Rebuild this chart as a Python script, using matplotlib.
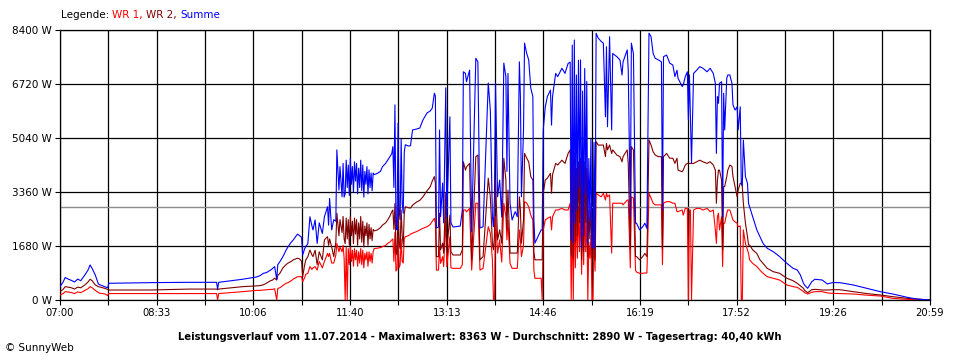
import numpy as np
import matplotlib
matplotlib.use("Agg")
import matplotlib.pyplot as plt

# Zeit in Minuten ab 07:00
minutes = [
    0, 3, 5, 8, 11, 14, 17, 20, 24, 27,
    29, 31, 34, 37, 39, 43, 46, 47, 87, 125,
    151, 152, 153, 176, 190, 193, 196, 199, 203, 205,
    207, 209, 210, 212, 215, 218, 220, 223, 225, 229,
    231, 233, 234, 236, 237, 239, 241, 243, 244, 246,
    248, 250, 253, 255, 258, 259, 260, 262, 264, 266,
    267, 269, 270, 272, 273, 274, 275, 276, 277, 278,
    279, 280, 281, 282, 283, 284, 285, 286, 287, 288,
    289, 290, 291, 292, 293, 294, 295, 296, 297, 298,
    299, 300, 301, 302, 303, 306, 309, 311, 314, 316,
    318, 320, 321, 322, 323, 324, 325, 326, 327, 328,
    329, 330, 331, 332, 333, 336, 338, 340, 344, 347,
    350, 354, 357, 359, 361, 362, 363, 365, 366, 367,
    369, 370, 372, 373, 376, 377, 379, 386, 388, 389,
    391, 392, 395, 397, 401, 403, 405, 408, 413, 415,
    417, 418, 419, 420, 422, 424, 426, 428, 430, 431,
    432, 434, 436, 439, 441, 443, 444, 445, 447, 448,
    450, 452, 454, 456, 457, 458, 464, 465, 466, 468,
    470, 473, 474, 475, 478, 480, 484, 487, 490, 492,
    493, 494, 495, 496, 497, 498, 499, 500, 501, 502,
    503, 504, 505, 506, 507, 508, 509, 510, 511, 512,
    513, 514, 515, 516, 517, 519, 522, 524, 526, 527,
    528, 530, 532, 533, 537, 540, 542, 543, 547, 548,
    550, 551, 553, 555, 556, 559, 562, 564, 566, 568,
    570, 572, 574, 577, 580, 581, 582, 585, 588, 591,
    593, 595, 596, 600, 601, 603, 605, 606, 607, 608,
    609, 611, 614, 617, 620, 624, 627, 630, 632, 633,
    634, 635, 636, 638, 639, 640, 641, 643, 644, 646,
    648, 649, 651, 653, 654, 656, 657, 658, 659, 661,
    663, 664, 665, 668, 672, 675, 678, 682, 688, 694,
    701, 707, 711, 714, 717, 718, 721, 725, 728, 735,
    740, 745, 752, 765, 778, 791, 803, 817, 826, 839,
]

wr1 = [
    155, 200, 260, 250, 230, 200, 250, 230, 300, 350,
    415, 380, 300, 230, 207, 190, 140, 200, 200, 200,
    200, 0, 200, 260, 300, 300, 310, 320, 330, 330,
    350, 0, 360, 380, 450, 520, 540, 600, 650, 725,
    725, 725, 570, 700, 800, 830, 1040, 950, 1000, 1040,
    930, 1200, 1000, 1200, 1450, 1350, 1450, 1150, 1150, 1400,
    1760, 1500, 1650, 1500, 1700, 1300, 0, 1650, 0, 1600,
    1100, 1650, 1200, 1550, 1050, 1600, 1250, 1550, 1050, 1500,
    1150, 1600, 1100, 1550, 1000, 1450, 1250, 1500, 1050, 1500,
    1200, 1450, 1150, 1500, 1600, 1610, 1630, 1660, 1700, 1760,
    1800, 1870, 1900, 1200, 2100, 900, 950, 2000, 1000, 1100,
    1900, 1200, 1150, 1900, 1970, 2000, 2050, 2080, 2130, 2180,
    2230, 2280, 2350, 2450, 2540, 2390, 930, 930, 1660, 1140,
    1350, 1040, 2590, 1040, 1970, 1000, 985, 985, 1100, 2800,
    2800, 2740, 2850, 930, 3010, 3010, 930, 985, 2280, 2080,
    1250, 0, 0, 2590, 1460, 1870, 1180, 3010, 2590, 1870,
    2490, 1140, 985, 985, 985, 2180, 1870, 1350, 1700, 3060,
    3020, 2900, 2640, 2490, 930, 675, 675, 0, 2180, 2490,
    2540, 2590, 2180, 2590, 2800, 2800, 2850, 2800, 2800, 3010,
    0, 3000, 0, 3010, 1000, 2800, 1300, 2900, 1500, 2900,
    800, 2700, 1100, 2900, 1500, 2900, 0, 1800, 1300, 2000,
    0, 0, 2000, 900, 3320, 3270, 3210, 3320, 3110, 3320,
    3210, 3270, 1460, 3010, 3010, 3010, 3010, 2960, 3110, 3110,
    1000, 3210, 3170, 930, 870, 830, 830, 840, 840, 3320,
    3170, 3010, 2960, 2960, 2960, 1100, 3010, 3060, 3060, 3010,
    3010, 2750, 2750, 2800, 2640, 2850, 2850, 0, 2800, 2800,
    0, 2800, 2850, 2850, 2800, 2850, 2750, 2800, 2180, 1760,
    2590, 2700, 2180, 2590, 1040, 2390, 2390, 2700, 2800, 2800,
    2590, 2490, 2430, 2390, 2280, 2300, 0, 0, 2180, 1760,
    1560, 1450, 1250, 1140, 1040, 930, 830, 725, 675, 620,
    467, 415, 394, 330, 260, 230, 187, 240, 260, 260,
    220, 207, 200, 187, 150, 124, 52, 20, 0, 0,
]

wr2 = [
    260, 330, 415, 400, 380, 340, 400, 380, 470, 560,
    645, 600, 470, 415, 400, 363, 330, 311, 311, 340,
    340, 320, 340, 415, 440, 450, 470, 520, 600, 620,
    680, 620, 760, 830, 1000, 1100, 1150, 1200, 1250, 1300,
    1280, 1200, 725, 1100, 1245, 1350, 1555, 1400, 1350, 1550,
    1100, 1500, 1250, 1870, 1970, 1700, 1900, 1650, 1350, 1800,
    2700, 2000, 2500, 2100, 2600, 1900, 1750, 2550, 1900, 2500,
    1700, 2600, 2000, 2450, 1750, 2550, 2050, 2500, 1700, 2400,
    1900, 2600, 1800, 2450, 1650, 2300, 2000, 2400, 1700, 2350,
    1900, 2250, 1850, 2200, 2150, 2180, 2250, 2330, 2400, 2490,
    2600, 2750, 2800, 2200, 3000, 1500, 1400, 2950, 1800, 1600,
    2800, 2000, 1700, 2700, 2900, 2870, 2860, 2950, 3050, 3100,
    3210, 3400, 3520, 3700, 3840, 3640, 1350, 1350, 2700, 1560,
    1770, 1460, 3330, 1560, 2640, 1500, 1400, 1400, 1560, 4300,
    4040, 4140, 4250, 1250, 4460, 4510, 1250, 1350, 3790, 3210,
    1770, 1560, 1990, 3730, 1870, 2180, 1770, 4410, 3730, 2180,
    3420, 1460, 1460, 1460, 1460, 3210, 2800, 1770, 2490, 4560,
    4420, 4300, 3840, 3730, 1500, 1250, 1250, 1250, 3320, 3730,
    3790, 3940, 3320, 3900, 4250, 4200, 4350, 4250, 4560, 4670,
    1400, 4500, 1300, 4560, 1800, 4100, 2000, 4300, 2400, 4400,
    1250, 3900, 1500, 4300, 2400, 4100, 1350, 2800, 1900, 3000,
    1300, 1300, 3000, 1250, 4930, 4820, 4820, 4820, 4460, 4870,
    4670, 4820, 4560, 4670, 4510, 4460, 4300, 4460, 4670, 4250,
    1600, 4770, 4670, 1350, 1350, 1250, 1350, 1450, 1350, 4980,
    4820, 4610, 4510, 4460, 4460, 1600, 4460, 4560, 4410, 4410,
    4250, 4410, 4040, 3990, 4040, 4200, 4250, 4250, 4250, 4250,
    4250, 4250, 4300, 4350, 4300, 4250, 4300, 4200, 4040, 3010,
    3730, 4040, 4040, 3730, 1560, 3530, 3530, 3840, 4040, 4200,
    4150, 3840, 3530, 3210, 3420, 3630, 3630, 3530, 3010, 2390,
    1970, 1710, 1710, 1560, 1450, 1250, 1140, 985, 880, 830,
    675, 600, 518, 440, 363, 300, 228, 320, 332, 311,
    311, 320, 320, 260, 200, 156, 104, 52, 30, 0,
]

summe = [
    415, 560, 700, 650, 610, 560, 650, 600, 780, 930,
    1090, 980, 780, 500, 467, 415, 380, 520, 540, 550,
    550, 340, 550, 645, 720, 760, 830, 850, 930, 980,
    1040, 640, 1100, 1190, 1350, 1550, 1660, 1800, 1870, 2050,
    2000, 1950, 1400, 1600, 1660, 1750, 2590, 2300, 2180, 2490,
    1760, 2400, 2070, 2590, 2900, 2330, 3160, 2180, 2500, 2450,
    4670, 3420, 4150, 3210, 4250, 3200, 3300, 4350, 3500, 4200,
    3250, 4400, 3600, 4150, 3350, 4300, 3700, 4250, 3300, 4100,
    3500, 4350, 3400, 4200, 3200, 4000, 3600, 4150, 3300, 4050,
    3500, 3950, 3400, 3950, 3900, 3940, 4000, 4150, 4250, 4350,
    4450, 4560, 4770, 3500, 6070, 2400, 2180, 5500, 2800, 2500,
    5000, 3000, 2700, 4600, 4830, 4790, 4800, 5290, 5320, 5350,
    5600, 5820, 5880, 5970, 6430, 6350, 2240, 2270, 5290, 2590,
    3640, 2400, 6600, 2580, 5700, 2400, 2270, 2300, 2800, 7100,
    7050, 6790, 7150, 2120, 7520, 7410, 2240, 2280, 6750, 5910,
    2590, 2280, 3210, 6750, 3210, 3730, 2580, 7370, 6950, 4000,
    7050, 3010, 2490, 2750, 2590, 7410, 6330, 3210, 5290, 7990,
    7680, 7470, 6590, 6330, 2490, 1770, 2180, 2180, 5290, 6010,
    6330, 6530, 5440, 6330, 7050, 6950, 7210, 7050, 7360, 7400,
    1870, 7930, 1770, 8090, 2400, 7000, 2800, 7460, 3500, 7470,
    1620, 6500, 2000, 7200, 3300, 6800, 1750, 4400, 2500, 5000,
    1620, 1650, 4900, 1600, 8300, 8150, 8040, 7990, 5700, 7880,
    5390, 8190, 5290, 7670, 7570, 7470, 7000, 7410, 7780, 7150,
    2590, 7990, 7670, 2390, 2390, 2180, 2280, 2390, 2230, 8300,
    8190, 7670, 7520, 7470, 7410, 2800, 7570, 7620, 7370, 7310,
    6950, 7150, 6900, 6640, 6690, 6950, 7100, 5600, 7000, 5600,
    4260, 7050, 7150, 7260, 7210, 7100, 7210, 7050, 6740, 4560,
    6330, 6120, 6740, 6790, 2590, 6430, 5290, 6900, 7000, 7000,
    6740, 6070, 5910, 6010, 5290, 6010, 3640, 3550, 4980, 3840,
    3630, 3010, 2900, 2590, 2180, 1970, 1760, 1610, 1500, 1350,
    1140, 985, 933, 778, 520, 467, 363, 570, 645, 622,
    500, 540, 540, 467, 363, 260, 187, 84, 31, 0,
]

time_labels = ["07:00", "08:33", "10:06", "11:40", "13:13",
               "14:46", "16:19", "17:52", "19:26", "20:59"]
power_ticks = [0, 1680, 3360, 5040, 6720, 8400]
durchschnitt = 2890

assert len(minutes) == len(wr1) == len(wr2) == len(summe)

fig = plt.figure(figsize=(9.6, 3.6), dpi=100)
ax = fig.add_axes([60 / 960, 60 / 360, 870 / 960, 270 / 360])

ax.plot(minutes, wr1, color="#ff0000", lw=0.8, zorder=3)
ax.plot(minutes, wr2, color="#800000", lw=0.8, zorder=4)
ax.plot(minutes, summe, color="#0000ff", lw=0.8, zorder=5)
ax.axhline(durchschnitt, color="#8c8c8c", lw=1.0, zorder=2)

ax.set_xlim(0, 839)
ax.set_ylim(0, 8400)
ax.set_xticks(np.linspace(0, 839, len(time_labels)))
ax.set_xticklabels(time_labels)
ax.set_xticks(np.linspace(0, 839, 2 * len(time_labels) - 1), minor=True)
ax.set_yticks(power_ticks)
ax.set_yticklabels([f"{v} W" for v in power_ticks])
ax.grid(True, which="both", color="black", lw=0.9)
ax.set_axisbelow(True)
ax.tick_params(which="both", direction="out", length=3.6, width=0.8,
               labelsize=7.5, pad=2.5, colors="black")
ax.tick_params(axis="x", labelsize=7.2)
for s in ax.spines.values():
    s.set_linewidth(0.9)
    s.set_color("black")

# Legende oben links, farbige Teile nebeneinander
renderer = fig.canvas.get_renderer()
x = 61 / 960
for txt, col in [("Legende: ", "black"), ("WR 1, ", "#ff0000"),
                 ("WR 2, ", "#800000"), ("Summe", "#0000ff")]:
    t = fig.text(x, 1 - 15 / 360, txt, color=col, fontsize=7.5,
                 ha="left", va="center")
    x = t.get_window_extent(renderer).x1 / fig.bbox.width

fig.text(0.5, 1 - 337 / 360,
         "Leistungsverlauf vom 11.07.2014 - Maximalwert: 8363 W - "
         "Durchschnitt: 2890 W - Tagesertrag: 40,40 kWh",
         ha="center", va="center", fontsize=7.2, fontweight="bold")
fig.text(5 / 960, 1 - 348 / 360, "© SunnyWeb", ha="left", va="center",
         fontsize=7.5)

fig.savefig("out.png", dpi=100)
